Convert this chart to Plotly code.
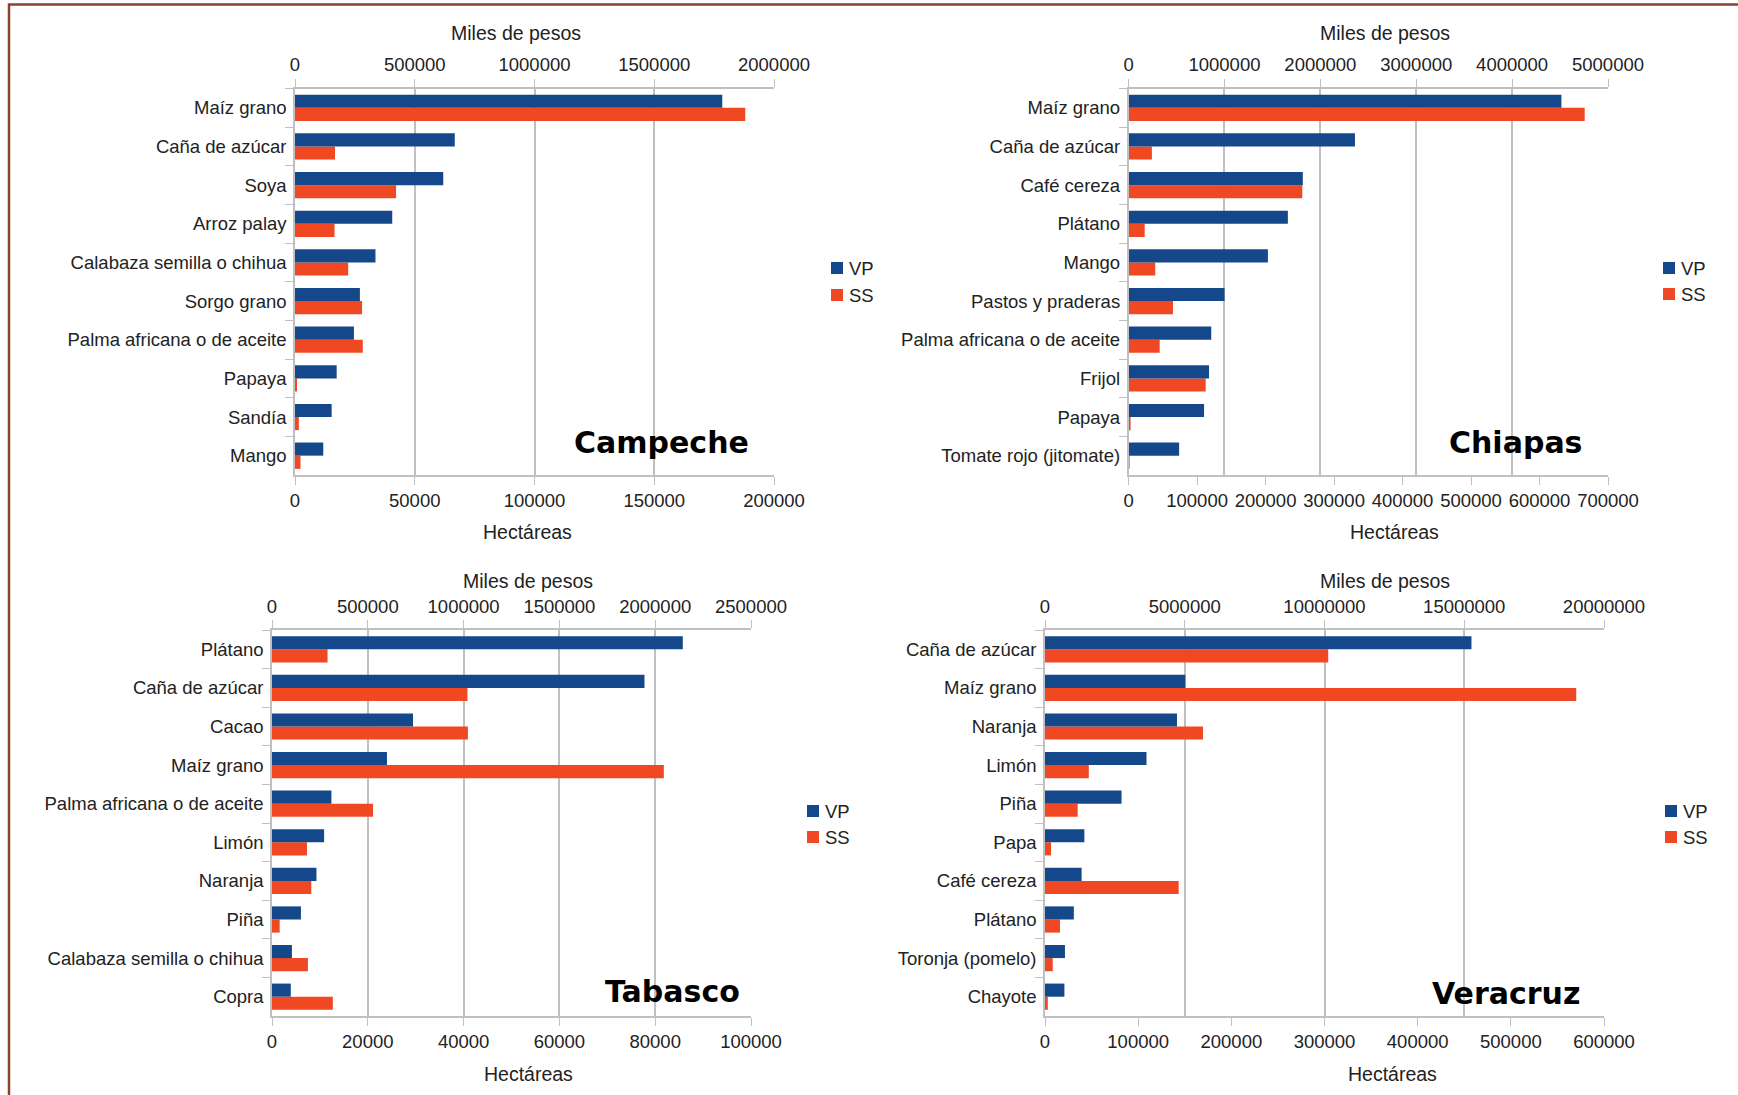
import plotly.graph_objects as go

# ---- data -------------------------------------------------------------
# VP: valor de la producción (miles de pesos); SS: superficie sembrada (hectáreas)
campeche_cultivos = ["Maíz grano", "Caña de azúcar", "Soya", "Arroz palay",
                     "Calabaza semilla o chihua", "Sorgo grano",
                     "Palma africana o de aceite", "Papaya", "Sandía", "Mango"]
campeche_vp = [1784000, 667000, 619000, 406000, 336000, 271000, 246000, 174000, 153000, 118000]
campeche_ss = [188000, 16700, 42200, 16500, 22200, 28000, 28300, 700, 1600, 2300]

chiapas_cultivos = ["Maíz grano", "Caña de azúcar", "Café cereza", "Plátano", "Mango",
                    "Pastos y praderas", "Palma africana o de aceite", "Frijol",
                    "Papaya", "Tomate rojo (jitomate)"]
chiapas_vp = [4514000, 2361000, 1817000, 1661000, 1453000, 1001000, 862000, 839000, 787000, 527000]
chiapas_ss = [666000, 34000, 253600, 23500, 38900, 64800, 45400, 112600, 1600, 800]

tabasco_cultivos = ["Plátano", "Caña de azúcar", "Cacao", "Maíz grano",
                    "Palma africana o de aceite", "Limón", "Naranja", "Piña",
                    "Calabaza semilla o chihua", "Copra"]
tabasco_vp = [2144000, 1944000, 736000, 600000, 310000, 272000, 232000, 151000, 104000, 98000]
tabasco_ss = [11600, 40800, 40900, 81800, 21100, 7300, 8200, 1600, 7500, 12700]

veracruz_cultivos = ["Caña de azúcar", "Maíz grano", "Naranja", "Limón", "Piña", "Papa",
                     "Café cereza", "Plátano", "Toronja (pomelo)", "Chayote"]
veracruz_vp = [15258000, 5020000, 4722000, 3631000, 2738000, 1409000, 1310000, 1032000, 714000, 694000]
veracruz_ss = [304000, 570200, 169600, 47000, 35100, 6500, 143500, 16100, 8300, 3000]

estados = ["Campeche", "Chiapas", "Tabasco", "Veracruz"]
series_names = ["VP", "SS"]
axis_titles = ["Miles de pesos", "Hectáreas"]

# ---- styling ----------------------------------------------------------
W, H = 1738, 1095
BLUE = "#15488a"
ORANGE = "#f04823"
GRID = "#c0c0c0"
TXT = "#222222"
FONT = "Liberation Sans, Arial, sans-serif"
BOLD = "DejaVu Sans, sans-serif"
BAR_W = 0.34
KEY = 12   # legend key square size, px
TICK_SIZE = 18.5
TITLE_SIZE = 19.5


def fx(px):
    return px / W


def fy(py):
    return 1 - py / H


panels = [
    dict(name=estados[0], cats=campeche_cultivos, vp=campeche_vp, ss=campeche_ss,
         box=(295, 774, 88.5, 475), top=(2000000, 500000), bot=(200000, 50000),
         top_title=(516, 33), bot_title=(527, 532), label=(751, 442),
         legend=(837, 268, 295)),
    dict(name=estados[1], cats=chiapas_cultivos, vp=chiapas_vp, ss=chiapas_ss,
         box=(1128.6, 1608, 88.5, 475), top=(5000000, 1000000), bot=(700000, 100000),
         top_title=(1385, 33), bot_title=(1394, 532), label=(1584, 442),
         legend=(1669, 268, 294)),
    dict(name=estados[2], cats=tabasco_cultivos, vp=tabasco_vp, ss=tabasco_ss,
         box=(272, 751, 630, 1016), top=(2500000, 500000), bot=(100000, 20000),
         top_title=(528, 581), bot_title=(528, 1074), label=(742, 991),
         legend=(813, 811, 837)),
    dict(name=estados[3], cats=veracruz_cultivos, vp=veracruz_vp, ss=veracruz_ss,
         box=(1045, 1604, 630, 1016), top=(20000000, 5000000), bot=(600000, 100000),
         top_title=(1385, 581), bot_title=(1392, 1074), label=(1582, 993),
         legend=(1671, 811, 837)),
]

fig = go.Figure()
layout = dict(
    width=W, height=H,
    margin=dict(l=0, r=0, t=0, b=0, autoexpand=False),
    paper_bgcolor="white", plot_bgcolor="white",
    font=dict(family=FONT, size=TICK_SIZE, color=TXT),
    showlegend=False,
    annotations=[], shapes=[],
)

tick_font = dict(family=FONT, size=TICK_SIZE, color=TXT)
series_colors = [BLUE, ORANGE]

for i, p in enumerate(panels):
    n = i + 1
    xb = 2 * n - 1          # bottom axis (hectáreas)
    xt = 2 * n              # top axis (miles de pesos)
    xb_name = "x" if xb == 1 else f"x{xb}"
    xt_name = f"x{xt}"
    y_name = "y" if n == 1 else f"y{n}"
    x0, x1, y0, y1 = p["box"]

    fig.add_trace(go.Bar(
        y=p["cats"], x=p["vp"], orientation="h", name=series_names[0],
        xaxis=xt_name, yaxis=y_name, marker=dict(color=BLUE, line=dict(width=0)),
        width=BAR_W, offset=-BAR_W,
    ))
    fig.add_trace(go.Bar(
        y=p["cats"], x=p["ss"], orientation="h", name=series_names[1],
        xaxis=xb_name, yaxis=y_name, marker=dict(color=ORANGE, line=dict(width=0)),
        width=BAR_W, offset=0,
    ))

    dom_x = [fx(x0), fx(x1)]
    dom_y = [fy(y1), fy(y0)]

    layout["xaxis" if xb == 1 else f"xaxis{xb}"] = dict(
        domain=dom_x, anchor=y_name, side="bottom", automargin=False,
        range=[0, p["bot"][0]], dtick=p["bot"][1], tick0=0, tickformat="d",
        showgrid=False, zeroline=False, showline=True, linecolor=GRID, linewidth=1.5,
        ticks="outside", ticklen=8, tickcolor=GRID, tickfont=tick_font,
    )
    layout[f"xaxis{xt}"] = dict(
        domain=dom_x, anchor=y_name, side="top", overlaying=xb_name, automargin=False,
        range=[0, p["top"][0]], dtick=p["top"][1], tick0=0, tickformat="d",
        showgrid=True, gridcolor=GRID, gridwidth=1.5,
        zeroline=False, showline=True, linecolor=GRID, linewidth=1.5,
        ticks="outside", ticklen=8, tickcolor=GRID, tickfont=tick_font,
    )
    layout["yaxis" if n == 1 else f"yaxis{n}"] = dict(
        domain=dom_y, anchor=xb_name, type="category", automargin=False,
        range=[len(p["cats"]) - 0.5, -0.5],
        showgrid=False, zeroline=False, showline=True, linecolor=GRID, linewidth=1.5,
        ticks="outside", ticklen=8, tickcolor=GRID, tickson="boundaries",
        tickfont=tick_font, ticklabelstandoff=3,
    )

    # legend keys: coloured square + series name
    kx, ky_vp, ky_ss = p["legend"]
    for name, color, ky in zip(series_names, series_colors, (ky_vp, ky_ss)):
        layout["shapes"].append(dict(
            type="rect", xref="paper", yref="paper",
            x0=fx(kx - KEY / 2), x1=fx(kx + KEY / 2),
            y0=fy(ky + KEY / 2), y1=fy(ky - KEY / 2),
            fillcolor=color, line=dict(width=0),
        ))
        layout["annotations"].append(dict(
            text=name, x=fx(kx + KEY / 2 + 4), y=fy(ky), xref="paper", yref="paper",
            xanchor="left", yanchor="middle", showarrow=False,
            font=dict(family=FONT, size=TICK_SIZE, color=TXT),
        ))

    tx, ty = p["top_title"]
    bx, by = p["bot_title"]
    layout["annotations"] += [
        dict(text=axis_titles[0], x=fx(tx), y=fy(ty), xref="paper", yref="paper",
             xanchor="center", yanchor="middle", showarrow=False,
             font=dict(family=FONT, size=TITLE_SIZE, color=TXT)),
        dict(text=axis_titles[1], x=fx(bx), y=fy(by), xref="paper", yref="paper",
             xanchor="center", yanchor="middle", showarrow=False,
             font=dict(family=FONT, size=TITLE_SIZE, color=TXT)),
        dict(text=f"<b>{p['name']}</b>", x=fx(p["label"][0]), y=fy(p["label"][1]),
             xref="paper", yref="paper", xanchor="right", yanchor="middle",
             showarrow=False, font=dict(family=BOLD, size=30, color="black")),
    ]

# page frame
layout["shapes"].append(dict(
    type="rect", xref="paper", yref="paper",
    x0=fx(9), x1=fx(W + 20), y0=fy(H + 20), y1=fy(4.5),
    line=dict(color="#8c4232", width=2.5), fillcolor="rgba(0,0,0,0)", layer="above",
))

fig.update_layout(**layout)
fig.write_html("out.html")
